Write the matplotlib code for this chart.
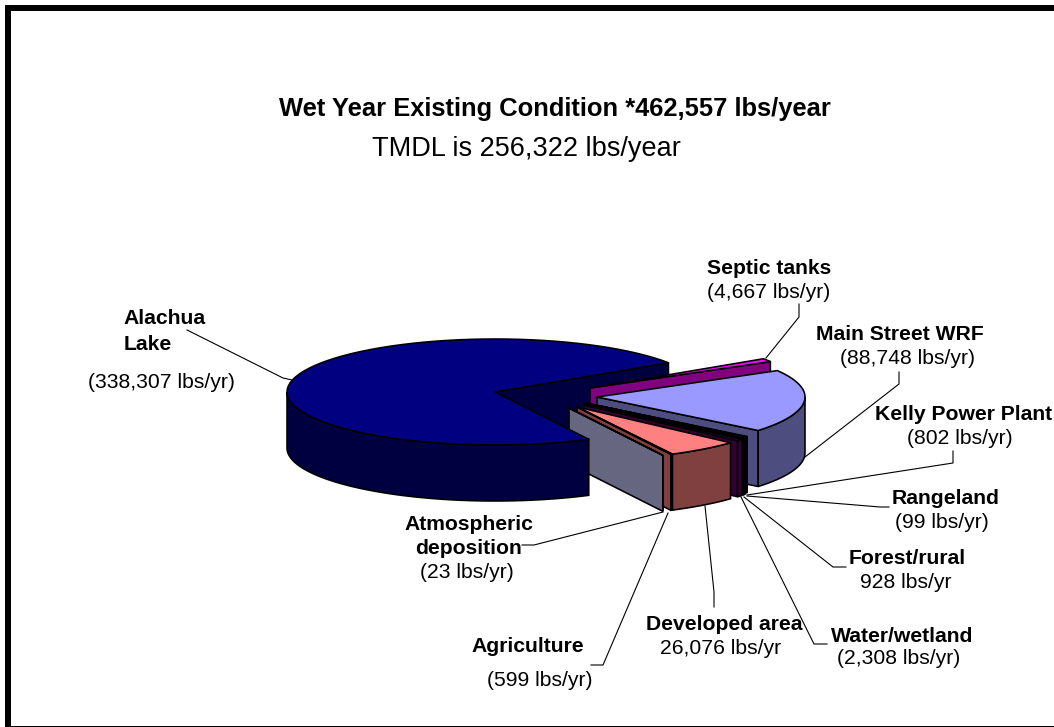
import numpy as np
import matplotlib
matplotlib.use("Agg")
import matplotlib.pyplot as plt
from matplotlib.patches import Polygon, Rectangle

plt.rcParams['font.family'] = ['Liberation Sans', 'DejaVu Sans']

title = "Wet Year Existing Condition *462,557 lbs/year"
subtitle = "TMDL is 256,322 lbs/year"

# clockwise from the back of the pie, the big lake slice comes last
names = ["Septic tanks", "Main Street WRF", "Kelly Power Plant", "Rangeland", "Forest/rural",
         "Water/wetland", "Developed area", "Agriculture", "Atmospheric\ndeposition", "Alachua\nLake"]
loads = [4667, 88748, 802, 99, 928, 2308, 26076, 599, 23, 338307]
in_parens = [True, True, True, True, False, True, False, True, True, True]

top_colors = ["#FF00FF", "#9999FF", "#660066", "#660066", "#660066", "#660066", "#FF8080", "#804040", "#666680", "#000080"]
side_colors = ["#800080", "#4D4D80", "#000000", "#000033", "#330033", "#330033", "#804040", "#804040", "#666680", "#000040"]

# slice apex on the canvas, this is the explosion of each slice
apex = [(590, 388), (597, 397), (586, 403), (585, 404), (585, 404.5),
        (584, 405), (577, 407), (577, 407), (569, 408), (495, 392)]

RX, RY, DEPTH = 208, 53, 56
START = 33.5
LABEL_SIZE = 15.2

# name block centre x, name line y's, value centre x, value y
label_pos = [
    (769, [268], 769, 292),
    (900, [333], 907, 357),
    (964, [414], 960, 438),
    (946, [497], 942, 522),
    (907, [558], 906, 581),
    (902, [635], 899, 658),
    (724, [624], 721, 647),
    (528, [645], 540, 679),
    (469, [524, 548], 467, 572),
    (165, [318, 343], 161, 382),
]
leaders = [
    [(799, 304), (799, 317), (766, 358)],
    [(899, 372), (899, 384), (805, 457)],
    [(953, 451), (953, 463), (747, 495)],
    [(889, 507), (880, 507), (747, 496)],
    [(846, 567), (833, 567), (744, 497)],
    [(827, 644), (814, 644), (741, 497)],
    [(714, 607), (714, 592), (705, 506)],
    [(591, 665), (603, 665), (668, 513)],
    [(522, 545), (534, 545), (663, 512)],
    [(187, 330), (283, 378), (292, 380)],
]

EDGE = 1.15


def rim(c, a0, a1, n=80):
    t = np.radians(np.linspace(a0, a1, n))
    return np.column_stack([c[0] + RX * np.cos(t), c[1] - RY * np.sin(t)])


def radial_wall(ax, c, a, color, z):
    p = rim(c, a, a, 1)[0]
    pts = [c, p, (p[0], p[1] + DEPTH), (c[0], c[1] + DEPTH)]
    ax.add_patch(Polygon(pts, closed=True, fc=color, ec="black", lw=EDGE, joinstyle="round", zorder=z))


def outer_wall(ax, c, a0, a1, color, z):
    # only the part of the rim below the ellipse centre faces the front
    lo, hi = min(a0, a1), max(a0, a1)
    walls = []
    for w0, w1 in [(-180, 0), (180, 360)]:
        s, e = max(lo, w0), min(hi, w1)
        if e > s:
            walls.append((s, e))
    for s, e in walls:
        arc = rim(c, s, e)
        low = arc[::-1] + [0, DEPTH]
        ax.add_patch(Polygon(np.vstack([arc, low]), closed=True, fc=color, ec="black", lw=EDGE, zorder=z))


def top_face(ax, c, a0, a1, color, z):
    pts = np.vstack([[c], rim(c, a0, a1)])
    ax.add_patch(Polygon(pts, closed=True, fc=color, ec="black", lw=EDGE, joinstyle="round", zorder=z))


fig = plt.figure(figsize=(10.54, 7.27), dpi=100)
ax = fig.add_axes([0, 0, 1, 1])
ax.set_xlim(0, 1054)
ax.set_ylim(727, 0)
ax.axis("off")

# frame, open on the right
ax.add_patch(Rectangle((5, 5), 1100, 6, fc="black", ec="none"))
ax.add_patch(Rectangle((5, 5), 6, 730, fc="black", ec="none"))
ax.add_patch(Rectangle((5, 726), 1100, 3, fc="black", ec="none"))

sweep = 360.0 * np.array(loads) / sum(loads)
a = START
z = 3
for i in range(len(loads)):
    a0, a1 = a, a - sweep[i]
    a = a1
    if i == len(loads) - 1:
        # lake slice wraps around the other way, inner wall goes under everything
        radial_wall(ax, apex[i], START, side_colors[i], 2)
        outer_wall(ax, apex[i], a1, a0, side_colors[i], 50)
        top_face(ax, apex[i], START, START + sweep[i], top_colors[i], 51)
    else:
        radial_wall(ax, apex[i], a1, side_colors[i], z)
        outer_wall(ax, apex[i], a1, a0, side_colors[i], z)
        top_face(ax, apex[i], a0, a1, top_colors[i], z + 1)
    z += 2

for line in leaders:
    xs, ys = zip(*line)
    ax.plot(xs, ys, color="black", lw=0.8, solid_joinstyle="round", zorder=60)

for i in range(len(names)):
    nx, ys, vx, vy = label_pos[i]
    lines = names[i].split("\n")
    for j in range(len(lines)):
        if lines[j] == "Lake":
            ax.text(124, ys[j] + 1, lines[j], ha="left", va="center", fontsize=LABEL_SIZE, fontweight="bold", zorder=70)
        else:
            ax.text(nx, ys[j] + 1, lines[j], ha="center", va="center", fontsize=LABEL_SIZE, fontweight="bold", zorder=70)
    val = f"{loads[i]:,} lbs/yr"
    if in_parens[i]:
        val = "(" + val + ")"
    ax.text(vx, vy + 1, val, ha="center", va="center", fontsize=LABEL_SIZE, zorder=70)

ax.text(554.5, 109, title, ha="center", va="center", fontsize=18.4, fontweight="bold")
ax.text(372, 149, subtitle, ha="left", va="center", fontsize=19.5)

fig.savefig("out.png", dpi=100)
